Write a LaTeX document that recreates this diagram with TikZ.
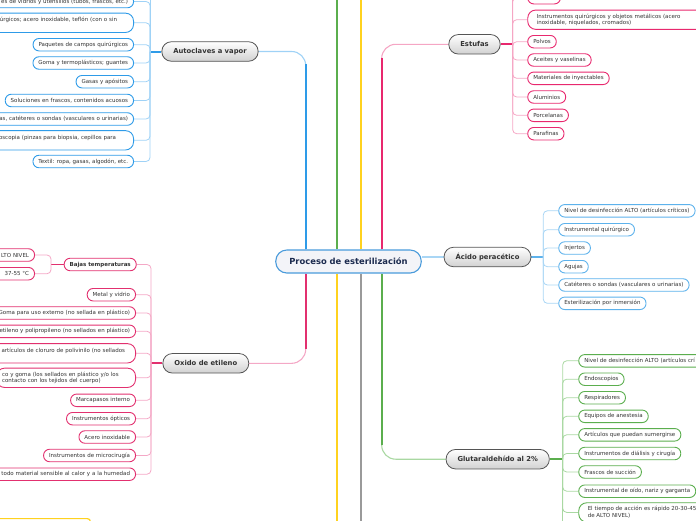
\documentclass[tikz,border=0pt]{standalone}
\usepackage{fontspec}
\setmainfont{DejaVu Sans}
\usetikzlibrary{backgrounds}
\definecolor{cA}{HTML}{2E9BE8}
\definecolor{cAl}{HTML}{9FD2F6}
\definecolor{cE}{HTML}{E8286E}
\definecolor{cEl}{HTML}{F5A6C4}
\definecolor{cC}{HTML}{5DB2EC}
\definecolor{cCl}{HTML}{A9D6F5}
\definecolor{cG}{HTML}{5BAE4E}
\definecolor{cGl}{HTML}{A9D8A2}
\definecolor{cO}{HTML}{E2306F}
\definecolor{cOl}{HTML}{F4A8C6}
\definecolor{yel}{HTML}{FFD21F}
\definecolor{gry}{HTML}{9A9A9A}
\definecolor{txt}{HTML}{333333}
\definecolor{brd}{HTML}{555555}
\definecolor{rootb}{HTML}{4A9BDB}
\definecolor{rootf}{HTML}{F3F4F8}
\definecolor{roott}{HTML}{1C2B4F}
\tikzset{
  leaf/.style={draw, fill=white, line width=0.9pt, rounded corners=6pt,
    font=\fontsize{5.5}{6.6}\selectfont, text=txt, inner xsep=5.5pt,
    inner ysep=1.5pt, minimum height=12.5pt},
  clipL/.style={text width=160pt, align=right},
  tall/.style={minimum height=19.3pt, rounded corners=8pt},
  branch/.style={draw=brd, line width=0.8pt, rounded corners=9.5pt,
    top color=white, bottom color=black!18,
    font=\bfseries\fontsize{6.8}{8}\selectfont, text=txt,
    inner xsep=11.5pt, inner ysep=2pt, minimum height=19.5pt},
  root/.style={draw=rootb, line width=1.1pt, fill=rootf, rounded corners=11pt,
    font=\bfseries\fontsize{8.4}{10}\selectfont, text=roott,
    inner xsep=13.5pt, minimum height=23pt},
  tick/.style={line width=0.8pt, rounded corners=4pt},
  trunk/.style={line width=2.3pt},
  twig/.style={line width=1.1pt, rounded corners=14pt},
  link/.style={line width=2pt},
}
\begin{document}
\begin{tikzpicture}[x=1pt,y=-1pt]
\path[use as bounding box] (0,0) rectangle (696,520);
\clip (0,0) rectangle (696,520);

% root and branches
\node[root] (root) at (348.5,261.5) {Proceso de esterilización};
\node[branch] (auto) at (210,51.5) {Autoclaves a vapor};
\node[branch] (estu) at (474.5,44.3) {Estufas};
\node[branch] (acid) at (487.5,257) {Ácido peracético};
\node[branch] (glut) at (497.7,459.2) {Glutaraldehído al 2\%};
\node[branch] (oxid) at (205.8,363.3) {Oxido de etileno};

% Autoclaves leaves
\node[leaf, draw=cA, clipL, anchor=east] (a1) at (134,1.5) {es de vidrios y utensilios (tubos, frascos, etc.)};
\node[leaf, draw=cA, clipL, tall, anchor=east] (a2) at (134,22.8) {úrgicos; acero inoxidable, teflón (con o sin\rule{11pt}{0pt}\\\mbox{}};
\node[leaf, draw=cA, anchor=east] (a3) at (134,44.7) {Paquetes de campos quirúrgicos};
\node[leaf, draw=cA, anchor=east] (a4) at (134,63) {Goma y termoplásticos; guantes};
\node[leaf, draw=cA, anchor=east] (a5) at (134,81.7) {Gasas y apósitos};
\node[leaf, draw=cA, anchor=east] (a6) at (134,100.5) {Soluciones en frascos, contenidos acuosos};
\node[leaf, draw=cA, clipL, anchor=east] (a7) at (134,119) {as, catéteres o sondas (vasculares o urinarias)};
\node[leaf, draw=cA, clipL, tall, anchor=east] (a8) at (134,140.3) {oscopia (pinzas para biopsia, cepillos para\rule{12pt}{0pt}\\\mbox{}};
\node[leaf, draw=cA, anchor=east] (a9) at (134,161.5) {Textil: ropa, gasas, algodón, etc.};

% Estufas leaves
\node[leaf, draw=cE, minimum width=32.7pt, anchor=west] (e1) at (527.3,-2.3) {};
\node[leaf, draw=cE, tall, anchor=west, text width=200pt, align=left, inner xsep=9pt] (e2) at (527.3,19.7) {Instrumentos quirúrgicos y objetos metálicos (acero\\inoxidable, niquelados, cromados)};
\node[leaf, draw=cE, anchor=west] (e3) at (527.3,41.7) {Polvos};
\node[leaf, draw=cE, anchor=west] (e4) at (527.3,60) {Aceites y vaselinas};
\node[leaf, draw=cE, anchor=west] (e5) at (527.3,78.3) {Materiales de inyectables};
\node[leaf, draw=cE, anchor=west] (e6) at (527.3,97) {Aluminios};
\node[leaf, draw=cE, anchor=west] (e7) at (527.3,115.3) {Porcelanas};
\node[leaf, draw=cE, anchor=west] (e8) at (527.3,133.7) {Parafinas};

% Acido leaves
\node[leaf, draw=cC, anchor=west] (c1) at (558.3,210.8) {Nivel de desinfección ALTO (artículos críticos)};
\node[leaf, draw=cC, anchor=west] (c2) at (558.3,229.7) {Instrumental quirúrgico};
\node[leaf, draw=cC, anchor=west] (c3) at (558.3,248) {Injertos};
\node[leaf, draw=cC, anchor=west] (c4) at (558.3,266.7) {Agujas};
\node[leaf, draw=cC, anchor=west] (c5) at (558.3,285) {Catéteres o sondas (vasculares o urinarias)};
\node[leaf, draw=cC, anchor=west] (c6) at (558.3,303.3) {Esterilización por inmersión};

% Glutaraldehido leaves
\node[leaf, draw=cG, anchor=west, text width=140pt, align=left] (g1) at (578.3,360.8) {Nivel de desinfección ALTO (artículos crí};
\node[leaf, draw=cG, anchor=west] (g2) at (578.3,379.2) {Endoscopios};
\node[leaf, draw=cG, anchor=west] (g3) at (578.3,397.7) {Respiradores};
\node[leaf, draw=cG, anchor=west] (g4) at (578.3,416.3) {Equipos de anestesia};
\node[leaf, draw=cG, anchor=west] (g5) at (578.3,434.8) {Artículos que puedan sumergirse};
\node[leaf, draw=cG, anchor=west] (g6) at (578.3,453.5) {Instrumentos de diálisis y cirugía};
\node[leaf, draw=cG, anchor=west] (g7) at (578.3,472) {Frascos de succión};
\node[leaf, draw=cG, anchor=west] (g8) at (578.3,491.2) {Instrumental de oído, nariz y garganta};
\node[leaf, draw=cG, tall, anchor=north west, text width=200pt, align=left, inner xsep=9pt, inner ysep=3.5pt] (g9) at (578.3,502.3) {El tiempo de acción es rápido 20-30-45\\de ALTO NIVEL)};

% Oxido leaves
\node[leaf, draw=cO, anchor=east, font=\bfseries\fontsize{5.5}{6.6}\selectfont] (o1) at (136.7,264.5) {Bajas temperaturas};
\node[leaf, draw=cO, anchor=east, text width=60pt, align=right] (b1) at (35,255) {LTO NIVEL};
\node[leaf, draw=cO, anchor=east, text width=60pt, align=right] (b2) at (35,273.7) {37-55 °C};
\node[leaf, draw=cO, anchor=east] (o2) at (136,294.7) {Metal y vidrio};
\node[leaf, draw=cO, clipL, anchor=east] (o3) at (136,313) {Goma para uso externo (no sellada en plástico)};
\node[leaf, draw=cO, clipL, anchor=east] (o4) at (136,331.3) {etileno y polipropileno (no sellados en plástico)};
\node[leaf, draw=cO, clipL, tall, anchor=east] (o5) at (136,353.3) {artículos de cloruro de polivinilo (no sellados\rule{5pt}{0pt}\\\mbox{}};
\node[leaf, draw=cO, tall, anchor=east, text width=128pt, align=left] (o6) at (136,377.8) {co y goma (los sellados en plástico y/o los\\contacto con los tejidos del cuerpo)};
\node[leaf, draw=cO, anchor=east] (o7) at (136,400.3) {Marcapasos interno};
\node[leaf, draw=cO, anchor=east] (o8) at (136,418.7) {Instrumentos ópticos};
\node[leaf, draw=cO, anchor=east] (o9) at (136,437) {Acero inoxidable};
\node[leaf, draw=cO, anchor=east] (o10) at (136,455.5) {Instrumentos de microcirugía};
\node[leaf, draw=cO, clipL, anchor=east] (o11) at (136,474.2) {todo material sensible al calor y a la humedad};

% partly hidden yellow box, bottom left
\node[draw=yel, line width=1.2pt, rounded corners=3pt, minimum width=110pt, minimum height=20pt, anchor=north east] (y1) at (91,518) {};

% spine points
\coordinate (sA) at (150,51.5);
\coordinate (sE) at (512.7,44.3);
\coordinate (sC) at (543.3,257);
\coordinate (sG) at (562.7,459.2);
\coordinate (sO) at (151,363.3);
\coordinate (sB) at (51,264.5);
\coordinate (tA) at (150,-20);
\coordinate (tE) at (512.7,-20);
\coordinate (tG) at (562.7,540);

\begin{scope}[on background layer]
\clip (0,0) rectangle (696,520);
% main connectors
\draw[twig, cAl] ([xshift=-42.8pt]root.north) |- (auto.east);
\draw[trunk, cA] ([xshift=-42.8pt]root.north) -- ++(0,-185);
\draw[twig, cEl] ([xshift=33.2pt]root.north) |- (estu.west);
\draw[trunk, cE] ([xshift=33.2pt]root.north) -- ++(0,-191);
\draw[twig, cOl] ([xshift=-42.8pt]root.south) |- (oxid.east);
\draw[trunk, cO] ([xshift=-42.8pt]root.south) -- ++(0,75);
\draw[twig, cGl] ([xshift=33.2pt]root.south) |- (glut.west);
\draw[trunk, cG] ([xshift=33.2pt]root.south) -- ++(0,171);
\draw[line width=1.1pt, cCl] (root.east |- acid.west) -- (acid.west);
\draw[trunk, line width=2pt, cG] ([xshift=-11.8pt]root.north) -- ++(0,-270);
\draw[trunk, line width=2pt, yel] ([xshift=12.5pt]root.north) -- ++(0,-270);
\draw[trunk, line width=2pt, yel] ([xshift=-11.8pt]root.south) -- ++(0,260);
\draw[trunk, line width=2pt, gry] ([xshift=12.5pt]root.south) -- ++(0,260);

% Autoclaves
\draw[link, cA] (auto.west) -- (sA);
\draw[tick, cAl] (sA) -- (tA);
\foreach \n in {a1,a2,a3,a4,a5,a6,a7,a8,a9} \draw[tick, cAl] (sA) |- (\n.east);
% Estufas
\draw[link, cE] (estu.east) -- (sE);
\draw[tick, cEl] (sE) -- (tE);
\foreach \n in {e1,e2,e3,e4,e5,e6,e7,e8} \draw[tick, cEl] (sE) |- (\n.west);
% Acido
\draw[link, cC] (acid.east) -- (sC);
\foreach \n in {c1,c2,c3,c4,c5,c6} \draw[tick, cCl] (sC) |- (\n.west);
% Glutaraldehido
\draw[link, cG] (glut.east) -- (sG);
\draw[tick, cGl] (sG) -- (tG);
\foreach \n in {g1,g2,g3,g4,g5,g6,g7,g8,g9} \draw[tick, cGl] (sG) |- (\n.west);
% Oxido
\draw[link, cO] (oxid.west) -- (sO);
\foreach \n in {o1,o2,o3,o4,o5,o6,o7,o8,o9,o10,o11} \draw[tick, cOl] (sO) |- (\n.east);
\draw[link, line width=1.4pt, cO] (o1.west) -- (sB);
\foreach \n in {b1,b2} \draw[tick, cOl] (sB) |- (\n.east);
\end{scope}
\end{tikzpicture}
\end{document}
